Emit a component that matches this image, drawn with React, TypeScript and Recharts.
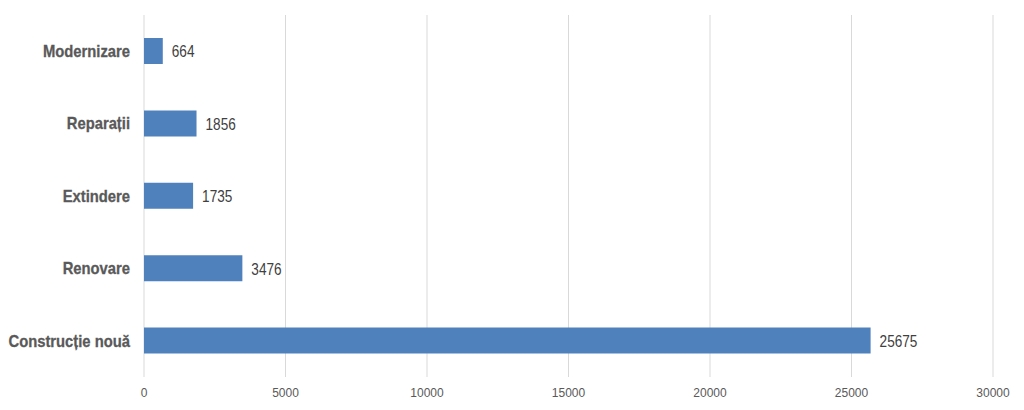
import { BarChart, Bar, XAxis, YAxis, CartesianGrid, LabelList } from 'recharts';

const categories = ['Modernizare', 'Reparații', 'Extindere', 'Renovare', 'Construcție nouă'];
const values = [664, 1856, 1735, 3476, 25675];
const xTicks = [0, 5000, 10000, 15000, 20000, 25000, 30000];

const data = categories.map((name, i) => ({ name, value: values[i] }));

// no narrow font installed, so squeeze Liberation Sans horizontally
const CategoryTick = ({ x, y, payload }: any) => (
  <text
    transform={`translate(${x},${y}) scale(0.87,1)`}
    textAnchor="end"
    dominantBaseline="central"
    fontSize={17}
    fontWeight="bold"
    fill="#595959"
    stroke="#595959"
    strokeWidth={0.3}
    fontFamily="Liberation Sans, Arial, sans-serif"
  >
    {payload.value}
  </text>
);

const ValueLabel = ({ x, y, width, height, value }: any) => (
  <text
    transform={`translate(${x + width + 9},${y + height / 2 + 1}) scale(0.85,1)`}
    dominantBaseline="central"
    fontSize={16}
    fill="#404040"
    fontFamily="Liberation Sans, Arial, sans-serif"
  >
    {value}
  </text>
);

export default function App() {
  return (
    <div style={{ position: 'absolute', left: 0, top: 0, background: '#fff' }}>
      <BarChart
        width={1024}
        height={410}
        data={data}
        layout="vertical"
        margin={{ top: 15, right: 31, bottom: 0, left: 0 }}
      >
        <CartesianGrid horizontal={false} stroke="#d9d9d9" />
        <XAxis
          type="number"
          domain={[0, 30000]}
          ticks={xTicks}
          axisLine={false}
          tickLine={false}
          height={33}
          tickMargin={5}
          tick={{ fontSize: 12, fill: '#595959', fontFamily: 'Liberation Sans, Arial, sans-serif' }}
        />
        <YAxis
          type="category"
          dataKey="name"
          width={144}
          axisLine={false}
          tickLine={false}
          tickMargin={8}
          tick={<CategoryTick />}
        />
        <Bar dataKey="value" fill="#4f81bd" barSize={26} isAnimationActive={false}>
          <LabelList dataKey="value" content={<ValueLabel />} />
        </Bar>
      </BarChart>
    </div>
  );
}
